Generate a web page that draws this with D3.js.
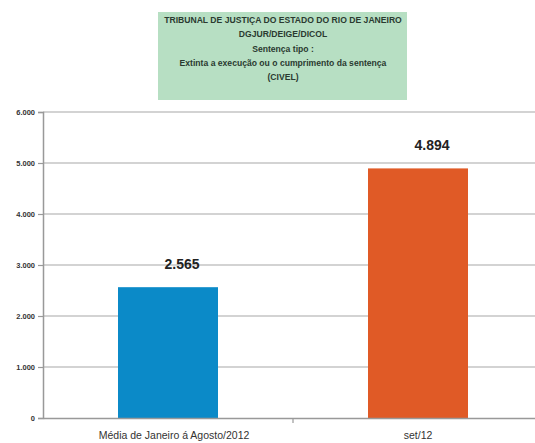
<!DOCTYPE html>
<html>
<head>
<meta charset="utf-8">
<script src="https://cdn.jsdelivr.net/npm/d3@7"></script>
<style>
  html, body { margin: 0; padding: 0; background: #fff; }
  svg { display: block; }
</style>
</head>
<body>
<svg id="chart" width="535" height="443"></svg>
<script>
// Chart data
const categories = ["Média de Janeiro á Agosto/2012", "set/12"];
const values = [2565, 4894];
const valueLabels = ["2.565", "4.894"];
const barColors = ["#0b8ac8", "#e05a26"];
const yTicks = [0, 1000, 2000, 3000, 4000, 5000, 6000];
const yTickLabels = ["0", "1.000", "2.000", "3.000", "4.000", "5.000", "6.000"];
const titleLines = [
  "TRIBUNAL DE JUSTIÇA DO ESTADO DO RIO DE JANEIRO",
  "DGJUR/DEIGE/DICOL",
  "Sentença tipo :",
  "Extinta a execução ou o cumprimento da sentença",
  "(CIVEL)"
];

const svg = d3.select("#chart");
const font = "'Liberation Sans', Arial, sans-serif";

const plot = { left: 43, right: 543, top: 112, bottom: 418 };

const x = d3.scaleBand()
  .domain(categories)
  .range([plot.left, plot.right])
  .paddingInner(0.6)
  .paddingOuter(0.3);

const y = d3.scaleLinear()
  .domain([0, 6000])
  .range([plot.bottom, plot.top]);

// Title box
const box = svg.append("g");
box.append("rect")
  .attr("x", 158).attr("y", 12)
  .attr("width", 249).attr("height", 88)
  .attr("fill", "#b7dfc3");
box.selectAll("text")
  .data(titleLines)
  .enter().append("text")
  .attr("x", 283)
  .attr("y", (d, i) => 23 + i * 14.3)
  .attr("text-anchor", "middle")
  .attr("font-family", font)
  .attr("font-weight", "bold")
  .attr("font-size", 8.6)
  .attr("fill", "#2a3a30")
  .text(d => d);

// Gridlines
svg.append("g")
  .selectAll("line")
  .data(yTicks.filter(d => d > 0))
  .enter().append("line")
  .attr("x1", plot.left).attr("x2", 535)
  .attr("y1", d => y(d)).attr("y2", d => y(d))
  .attr("stroke", "#a8a8a8")
  .attr("stroke-width", 1.2);

// Y axis
const yAxis = svg.append("g")
  .attr("transform", `translate(${plot.left},0)`)
  .call(d3.axisLeft(y).tickValues(yTicks).tickFormat((d, i) => yTickLabels[i]).tickSize(5).tickPadding(3));
yAxis.select(".domain").attr("stroke", "#999").attr("stroke-width", 1.5);
yAxis.selectAll(".tick line").attr("stroke", "#999").attr("stroke-width", 1.2);
yAxis.selectAll(".tick text")
  .attr("font-family", font)
  .attr("font-size", 7.5)
  .attr("font-weight", "bold")
  .attr("fill", "#333");

// Bars
svg.append("g")
  .selectAll("rect")
  .data(values)
  .enter().append("rect")
  .attr("x", (d, i) => x(categories[i]))
  .attr("y", d => y(d))
  .attr("width", x.bandwidth())
  .attr("height", d => y(0) - y(d))
  .attr("fill", (d, i) => barColors[i]);

// X axis
const xAxis = svg.append("g")
  .attr("transform", `translate(0,${plot.bottom})`)
  .call(d3.axisBottom(x).tickSize(0).tickPadding(14));
xAxis.select(".domain").attr("stroke", "#999").attr("stroke-width", 1.5);
xAxis.selectAll(".tick text")
  .attr("font-family", font)
  .attr("font-size", 10.5)
  .attr("fill", "#333")
  .attr("dx", (d, i) => i === 0 ? 6 : 0);
// Separator tick between categories
const sepX = (x(categories[0]) + x.bandwidth() + x(categories[1])) / 2;
svg.append("line")
  .attr("x1", sepX).attr("x2", sepX)
  .attr("y1", plot.bottom).attr("y2", plot.bottom + 5)
  .attr("stroke", "#999").attr("stroke-width", 1.2);

// Value labels
svg.append("g")
  .selectAll("text")
  .data(values)
  .enter().append("text")
  .attr("x", (d, i) => x(categories[i]) + x.bandwidth() / 2 + 14)
  .attr("y", d => y(d) - 18)
  .attr("text-anchor", "middle")
  .attr("font-family", font)
  .attr("font-weight", "bold")
  .attr("font-size", 14)
  .attr("fill", "#222")
  .text((d, i) => valueLabels[i]);
</script>
</body>
</html>
